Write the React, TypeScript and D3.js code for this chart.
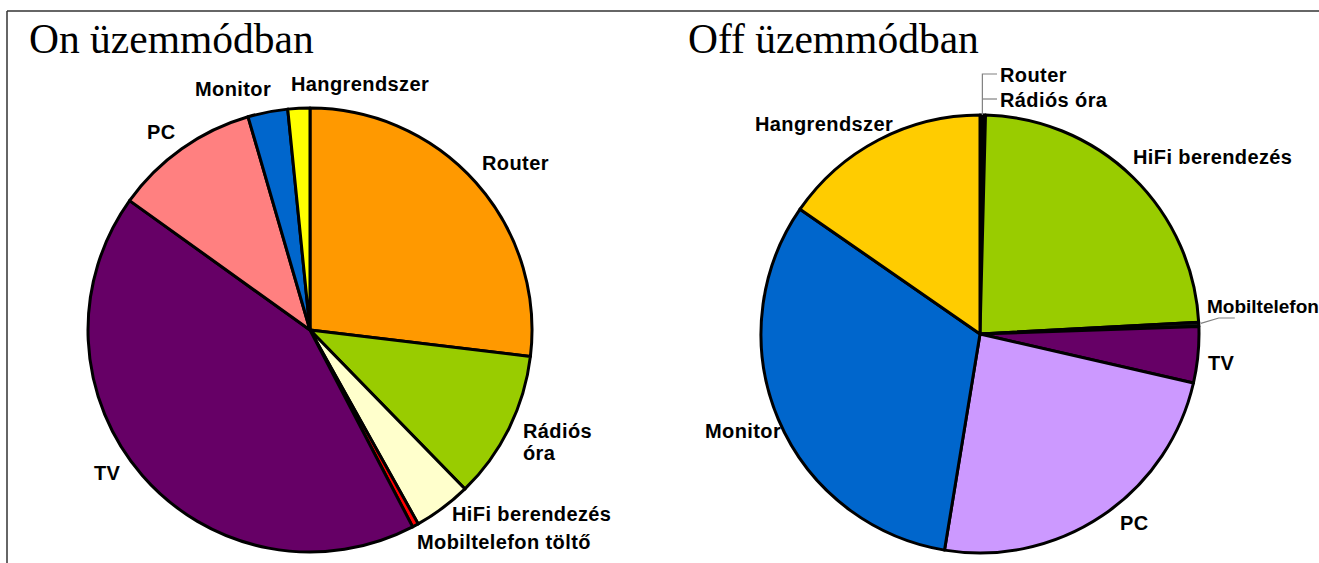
import React from "react";
import * as d3 from "d3";

// slices go clockwise from 12 o'clock, in this order in both pies
const categories = [
  "Router",
  "Rádiós óra",
  "HiFi berendezés",
  "Mobiltelefon töltő",
  "TV",
  "PC",
  "Monitor",
  "Hangrendszer",
];

// share of consumption, percent
const onValues = [26.9, 10.8, 4.2, 0.45, 42.55, 10.6, 2.9, 1.6];
const offValues = [0.2, 0.2, 23.75, 0.3, 4.14, 24.0, 32.06, 15.35];

const onColors = ["#FF9900", "#99CC00", "#FFFFCC", "#FF0000", "#660066", "#FF8080", "#0066CC", "#FFFF00"];
const offColors = ["#111111", "#111111", "#99CC00", "#111111", "#660066", "#CC99FF", "#0066CC", "#FFCC00"];

const onLabels = ["Router", "Rádiós\nóra", "HiFi berendezés", "Mobiltelefon töltő", "TV", "PC", "Monitor", "Hangrendszer"];
const offLabels = ["Router", "Rádiós óra", "HiFi berendezés", "Mobiltelefon", "TV", "PC", "Monitor", "Hangrendszer"];

const W = 1319;
const H = 563;

// label anchors (left x, baseline y) relative to the pie centre
const onLabelPos = [
  [172, -160],
  [213, 108],
  [142, 191],
  [107, 219],
  [-216, 150],
  [-163, -191],
  [-115, -234],
  [-19, -239],
];
const offLabelPos = [
  [20, -252],
  [20, -227],
  [153, -170],
  [227, -21],
  [228, 36],
  [140, 196],
  [-275, 104],
  [-225, -203],
];

type PieProps = {
  cx: number;
  cy: number;
  r: number;
  values: number[];
  colors: string[];
  labels: string[];
  labelPos: number[][];
  title: string;
  titleX: number;
  leaders?: React.ReactNode;
};

function Pie({ cx, cy, r, values, colors, labels, labelPos, title, titleX, leaders }: PieProps) {
  const pie = d3
    .pie<number>()
    .sort(null)
    .value((d) => d);
  const arcs = pie(values);
  const arc = d3.arc<d3.PieArcDatum<number>>().innerRadius(0).outerRadius(r);

  return (
    <g>
      <text
        x={titleX}
        y={53}
        fontFamily="'Liberation Serif', 'Times New Roman', serif"
        fontSize={41.5}
        fill="#000"
      >
        {title}
      </text>
      <g transform={`translate(${cx},${cy})`}>
        {arcs.map((a, i) => (
          <path
            key={categories[i]}
            d={arc(a) || ""}
            fill={colors[i]}
            stroke="#000"
            strokeWidth={3}
            strokeLinejoin="round"
          />
        ))}
        {leaders}
        {labels.map((l, i) => {
          const lines = l.split("\n");
          // the long label at the right edge is kept a bit tighter
          const tight = l === "Mobiltelefon";
          return (
            <text
              key={l}
              x={labelPos[i][0]}
              y={labelPos[i][1]}
              fontFamily="'Liberation Sans', Arial, sans-serif"
              fontWeight="bold"
              fontSize={tight ? 19 : 20}
              letterSpacing={tight ? 0 : 0.4}
              fill="#000"
            >
              {lines.map((t, j) => (
                <tspan key={j} x={labelPos[i][0]} dy={j === 0 ? 0 : 22}>
                  {t}
                </tspan>
              ))}
            </text>
          );
        })}
      </g>
    </g>
  );
}

export default function App() {
  const offR = 219;
  const offArcs = d3
    .pie<number>()
    .sort(null)
    .value((d) => d)(offValues);
  // point on the rim at a slice's middle angle
  const rim = (i: number, k = 1) => {
    const a = (offArcs[i].startAngle + offArcs[i].endAngle) / 2;
    return [Math.sin(a) * offR * k, -Math.cos(a) * offR * k];
  };
  const routerTop = rim(0);
  const mobil = rim(3);

  const offLeaders = (
    <g stroke="#808080" strokeWidth={1.2} fill="none">
      <polyline points={`${routerTop[0] + 1},${routerTop[1]} ${routerTop[0] + 1},${offLabelPos[0][1] - 8} ${offLabelPos[0][0] - 3},${offLabelPos[0][1] - 8}`} />
      <polyline points={`${routerTop[0] + 1},${offLabelPos[1][1] - 8} ${offLabelPos[1][0] - 3},${offLabelPos[1][1] - 8}`} />
      <polyline
        points={`${mobil[0] + 2},${mobil[1] - 1} ${mobil[0] + 20},${offLabelPos[3][1] + 5} ${mobil[0] + 36},${offLabelPos[3][1] + 5}`}
      />
      <line x1={-203} y1={94} x2={-201} y2={95} />
    </g>
  );

  return (
    <svg
      width={W}
      height={H}
      style={{ position: "absolute", left: 0, top: 0, background: "#fff" }}
    >
      <rect x={0} y={0} width={W} height={H} fill="#fff" />
      <line x1={7} y1={11} x2={W} y2={11} stroke="#333" strokeWidth={1.5} />
      <line x1={7} y1={11} x2={7} y2={H} stroke="#333" strokeWidth={1.5} />
      <Pie
        cx={310}
        cy={330}
        r={222}
        values={onValues}
        colors={onColors}
        labels={onLabels}
        labelPos={onLabelPos}
        title="On üzemmódban"
        titleX={29}
      />
      <Pie
        cx={980}
        cy={334}
        r={offR}
        values={offValues}
        colors={offColors}
        labels={offLabels}
        labelPos={offLabelPos}
        title="Off üzemmódban"
        titleX={688}
        leaders={offLeaders}
      />
    </svg>
  );
}
